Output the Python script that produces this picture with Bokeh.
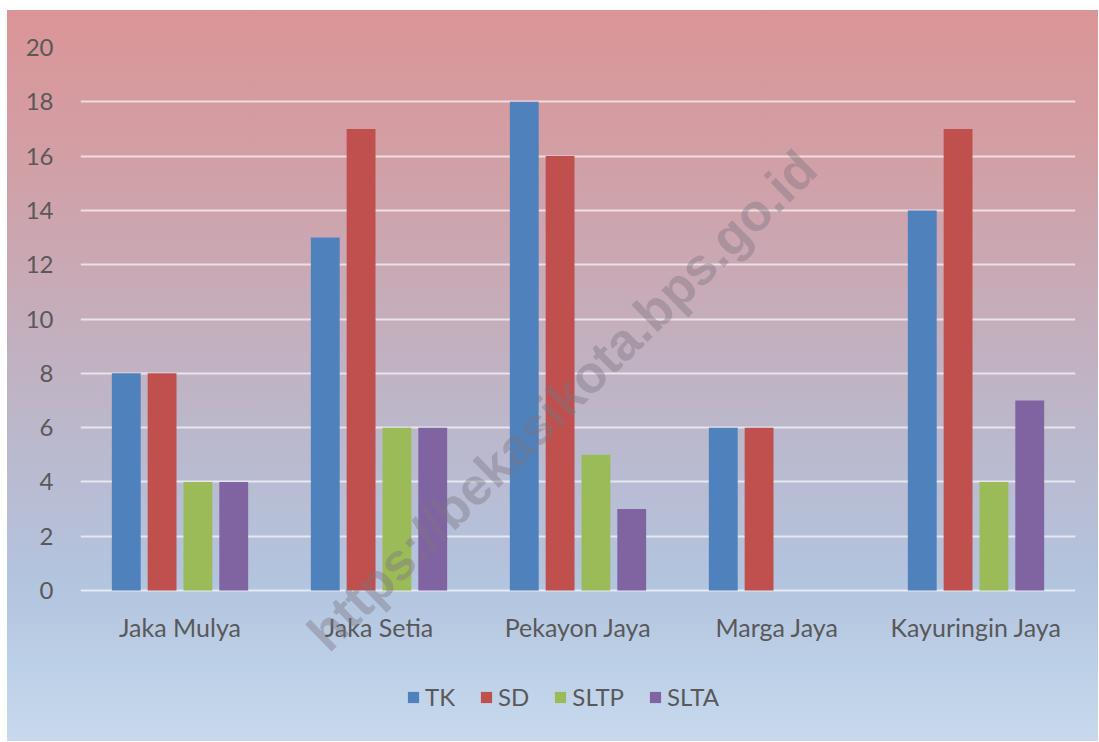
from bokeh.plotting import figure
from bokeh.models import FactorRange, FixedTicker, Label, Legend, ColumnDataSource
from bokeh.transform import dodge
from bokeh.embed import file_html
from bokeh.resources import INLINE

categories = ["Jaka Mulya", "Jaka Setia", "Pekayon Jaya", "Marga Jaya", "Kayuringin Jaya"]
series_names = ["TK", "SD", "SLTP", "SLTA"]
tk = [8, 13, 18, 6, 14]
sd = [8, 17, 16, 6, 17]
sltp = [4, 6, 5, 0, 4]
slta = [4, 6, 3, 0, 7]
y_ticks = [0, 2, 4, 6, 8, 10, 12, 14, 16, 18, 20]

colors = ["#4F81BD", "#C0504D", "#9BBB59", "#8064A2"]
offsets = [-0.27, -0.09, 0.09, 0.27]

source = ColumnDataSource(dict(cat=categories, TK=tk, SD=sd, SLTP=sltp, SLTA=slta))

FONT = "Lato"
TXT = "#595959"

p = figure(
    x_range=FactorRange(*categories, range_padding=0),
    y_range=(-5.56, 20),
    width=1091, height=731,
    output_backend="svg", toolbar_location=None,
    min_border_left=73, min_border_right=23, min_border_top=37, min_border_bottom=0,
)
p.styles = {
    "background": "linear-gradient(to bottom, #DB9597 0%, #D29FA5 20%, #C6ACB9 40%, #BBB8CC 58%, #B3C4DE 78%, #BCD0E7 90%, #C8D9EC 100%)",
    "margin-left": "7px",
    "margin-top": "10px",
}
p.border_fill_color = None
p.background_fill_color = None
p.outline_line_color = None

items = []
for name, col, off in zip(series_names, colors, offsets):
    r = p.vbar(x=dodge("cat", off, range=p.x_range), top=name, bottom=0, width=0.145,
               source=source, fill_color=col, line_color=None)
    items.append((name, [r]))

p.xgrid.grid_line_color = None
p.ygrid.grid_line_color = "#FFFFFF"
p.ygrid.grid_line_alpha = 0.65
p.ygrid.grid_line_width = 2
p.ygrid.level = "underlay"

p.yaxis.ticker = FixedTicker(ticks=y_ticks)
for ax in (p.xaxis[0], p.yaxis[0]):
    ax.axis_line_color = None
    ax.major_tick_line_color = None
    ax.minor_tick_line_color = None
    ax.major_tick_out = 0
    ax.major_label_text_font = FONT
    ax.major_label_text_font_size = "24px"
    ax.major_label_text_color = TXT
p.xaxis.major_label_text_font_size = "25px"
p.yaxis.major_label_standoff = 27
p.xaxis.major_label_standoff = -130

legend = Legend(items=items, orientation="horizontal", location=(326, 30))
legend.label_text_font = FONT
legend.label_text_font_size = "24px"
legend.label_text_color = TXT
legend.glyph_width = 14
legend.glyph_height = 14
legend.label_standoff = 5
legend.spacing = 24
legend.padding = 0
legend.border_line_color = None
legend.background_fill_color = None
legend.background_fill_alpha = 0
p.add_layout(legend, "center")

wm = Label(x=2.42, y=7.0, x_units="data", y_units="data",
           text="https://bekasikota.bps.go.id", angle=0.775, angle_units="rad",
           text_align="center", text_baseline="middle",
           text_font="Liberation Sans", text_font_style="bold", text_font_size="52px",
           text_color="#7A7480", text_alpha=0.4)
p.add_layout(wm)

open("out.html", "w").write(file_html(p, INLINE))
